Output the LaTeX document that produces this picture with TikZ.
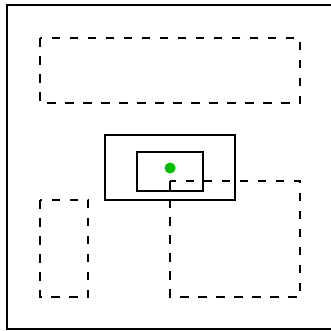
\documentclass[tikz,border=0pt]{standalone}
\usepackage{xcolor}
\usepackage{tikz}
\definecolor{dotgreen}{RGB}{0,190,0}

\begin{document}
\begin{tikzpicture}[x=1pt,y=-1pt,
    solidbox/.style={line width=2pt},
    dashbox/.style={line width=2pt,dash pattern=on 8.5pt off 9.5pt}]
  \clip (0,0) rectangle (331,330);
  \draw[line width=2pt] (7,5) rectangle (350,329);
  \draw[dashbox] (40,38) rectangle (300,103);
  \draw[dashbox] (40,200) rectangle (88,297);
  \draw[dashbox] (170,181) rectangle (300,297);
  \draw[solidbox] (105,135) rectangle (235,200);
  \draw[solidbox] (137,152) rectangle (203,191);
  \fill[dotgreen] (170,168) circle (5.5);
\end{tikzpicture}
\end{document}
